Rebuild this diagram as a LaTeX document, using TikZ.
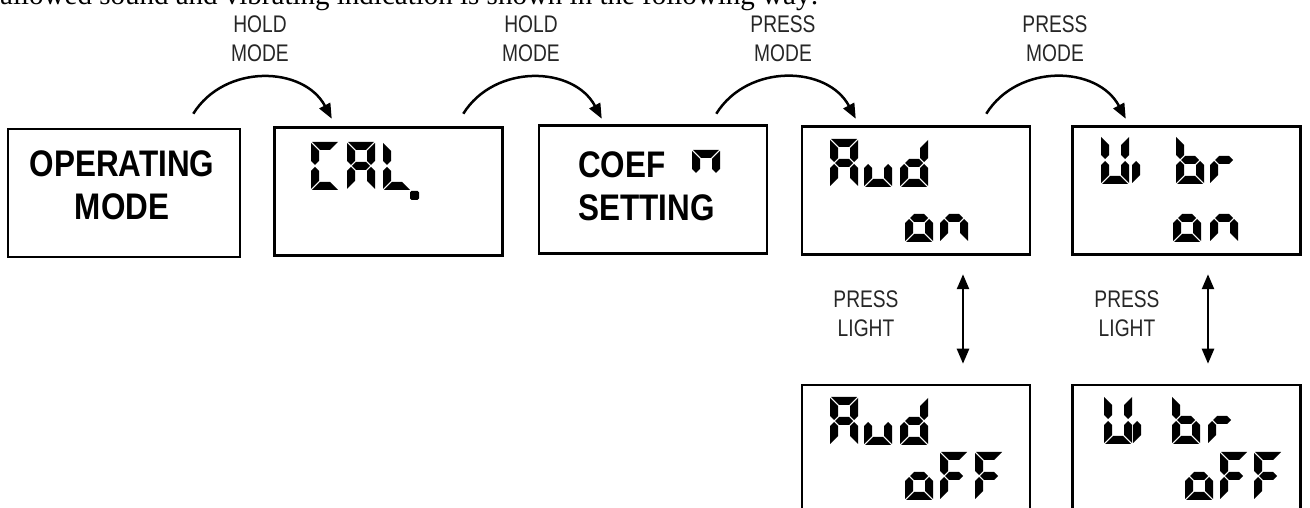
\documentclass[tikz,border=0pt]{standalone}
\usepackage{fontspec}
\setmainfont{Liberation Serif}
\newfontfamily\labelfont[FakeStretch=0.8]{Liberation Sans}
\newfontfamily\boxfont[FakeStretch=0.85]{Liberation Sans}
\usetikzlibrary{arrows.meta}

\tikzset{
  mbox/.style={draw, line width=2.5pt, minimum width=228pt, minimum height=128pt, inner sep=0pt},
  boxtext/.style={font=\boxfont\bfseries\fontsize{37}{43}\selectfont, inner sep=0pt},
  keytext/.style={font=\labelfont\fontsize{24}{29}\selectfont, align=center, inner sep=0pt, text=black!85},
  flow/.style={line width=2.5pt, -{Triangle[length=15pt,width=12pt]}},
  toggle/.style={line width=2.5pt, {Triangle[length=15pt,width=12pt]}-{Triangle[length=15pt,width=12pt]}},
  % seven segment cells, 28 x 48
  lcd-a/.pic={\fill (1,48) -- (27,48) -- (19,40) -- (9,40) -- cycle;},
  lcd-d/.pic={\fill (1,0) -- (27,0) -- (19,8) -- (9,8) -- cycle;},
  lcd-g/.pic={\fill (5,24) -- (9,28) -- (19,28) -- (23,24) -- (19,20) -- (9,20) -- cycle;},
  lcd-f/.pic={\fill (0,47) -- (8,39) -- (8,29) -- (4,25) -- (0,29) -- cycle;},
  lcd-e/.pic={\fill (0,1) -- (8,9) -- (8,19) -- (4,23) -- (0,19) -- cycle;},
  lcd-b/.pic={\fill (28,47) -- (20,39) -- (20,29) -- (24,25) -- (28,29) -- cycle;},
  lcd-c/.pic={\fill (28,1) -- (20,9) -- (20,19) -- (24,23) -- (28,19) -- cycle;}
}
\newcommand{\lcd}[2]{\foreach \s in {#2} {\pic at #1 {lcd-\s};}}

\begin{document}
\begin{tikzpicture}[x=1pt,y=1pt]
  \useasboundingbox (0,0) rectangle (1310,508);
  \clip (0,0) rectangle (1310,508);

  \node[anchor=base west, inner sep=0pt, font=\fontsize{29}{34}\selectfont] (intro) at (0,503)
    {allowed sound and vibrating indication is shown in the following way:};

  % the boxes
  \node[mbox, minimum width=232pt] (op) at (124,315) {};
  \node[mbox] (cal) at (388.5,316.5) {};
  \node[mbox] (coef) at (653,318.5) {};
  \node[mbox] (aud) at (916,317.5) {};
  \node[mbox] (vib) at (1186.5,317.5) {};
  \node[mbox] (audoff) at (916,59) {};
  \node[mbox] (viboff) at (1186.5,59) {};

  \node[boxtext, align=center] (op-txt) at (122,323) {OPERATING\\MODE};
  \node[boxtext, align=left, anchor=west] (coef-txt) at (578,322) {COEF\\SETTING};

  % display contents
  \lcd{(311,318)}{a,f,e,d}
  \lcd{(347,318)}{a,b,c,e,f,g}
  \lcd{(383,318)}{f,e,d}
  \fill[rounded corners=1.5pt] (410,308) rectangle (419,317);

  \lcd{(692,310)}{a,b,f}

  \lcd{(830,321)}{a,b,c,e,f,g}
  \lcd{(864,321)}{e,d,c}
  \lcd{(900,321)}{b,c,d,e,g}
  \lcd{(905,266)}{g,c,d,e}
  \lcd{(940,266)}{g,e,c}

  \lcd{(1101,324)}{b,c,d,e,f}
  \lcd{(1132,324)}{e}
  \lcd{(1176,324)}{f,e,d,c,g}
  \lcd{(1210,324)}{e,g}
  \lcd{(1173,266)}{g,c,d,e}
  \lcd{(1210,266)}{g,e,c}

  \lcd{(830,63)}{a,b,c,e,f,g}
  \lcd{(864,63)}{e,d,c}
  \lcd{(900,63)}{b,c,d,e,g}
  \lcd{(905,8)}{g,c,d,e}
  \lcd{(940,8)}{a,f,g,e}
  \lcd{(975,8)}{a,f,g,e}

  \lcd{(1104,64)}{b,c,d,e,f}
  \lcd{(1133,64)}{e}
  \lcd{(1172,64)}{f,e,d,c,g}
  \lcd{(1208,64)}{e,g}
  \lcd{(1185,8)}{g,c,d,e}
  \lcd{(1220,8)}{a,f,g,e}
  \lcd{(1254,8)}{a,f,g,e}

  % key presses
  \draw[flow] ([shift={(-48,14)}]op.north east) to[bend left=60, looseness=1.1] ([shift={(58.5,7.5)}]cal.north west);
  \draw[flow] ([shift={(-40.5,12.5)}]cal.north east) to[bend left=60, looseness=1.1] ([shift={(64,5.5)}]coef.north west);
  \draw[flow] ([shift={(-52,10.5)}]coef.north east) to[bend left=60, looseness=1.1] ([shift={(55,6.5)}]aud.north west);
  \draw[flow] ([shift={(-45,11.5)}]aud.north east) to[bend left=60, looseness=1.1] ([shift={(54.5,6.5)}]vib.north west);

  \node[keytext] (hold1) at (260,469) {HOLD\\MODE};
  \node[keytext] (hold2) at (531,469) {HOLD\\MODE};
  \node[keytext] (press1) at (783,469) {PRESS\\MODE};
  \node[keytext] (press2) at (1055,469) {PRESS\\MODE};

  \draw[toggle] ([shift={(47,-18.5)}]aud.south) -- ([shift={(47,20)}]audoff.north);
  \draw[toggle] ([shift={(21.5,-18.5)}]vib.south) -- ([shift={(21.5,20)}]viboff.north);

  \node[keytext] (light1) at (866,194) {PRESS\\LIGHT};
  \node[keytext] (light2) at (1127,194) {PRESS\\LIGHT};
\end{tikzpicture}
\end{document}
